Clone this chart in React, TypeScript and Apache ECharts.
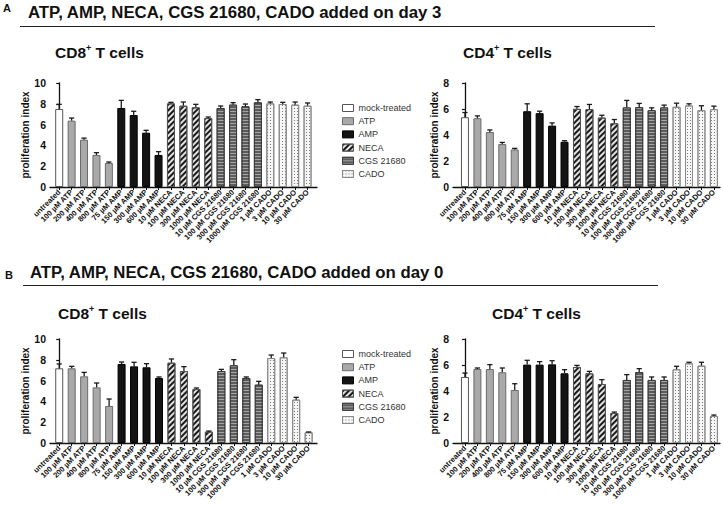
import React, { useEffect, useRef } from 'react';
import * as echarts from 'echarts';

const categories = [
  'untreated',
  '100 µM ATP', '200 µM ATP', '400 µM ATP', '800 µM ATP',
  '75 µM AMP', '150 µM AMP', '300 µM AMP', '600 µM AMP',
  '10 µM NECA', '100 µM NECA', '300 µM NECA', '1000 µM NECA',
  '10 µM CGS 21680', '100 µM CGS 21680', '300 µM CGS 21680', '1000 µM CGS 21680',
  '1 µM CADO', '3 µM CADO', '10 µM CADO', '30 µM CADO',
];
const groupNames = ['mock-treated', 'ATP', 'AMP', 'NECA', 'CGS 21680', 'CADO'];
const groupOfCategory = [0, 1, 1, 1, 1, 2, 2, 2, 2, 3, 3, 3, 3, 4, 4, 4, 4, 5, 5, 5, 5];

// Panel A (added on day 3)
const aCd8Mean = [7.5, 6.38, 4.55, 3.08, 2.31, 7.6, 6.92, 5.22, 3.08, 8.04, 7.82, 7.66, 6.63, 7.6, 7.92, 7.76, 8.14, 8.04, 7.98, 7.92, 7.82];
const aCd8Err = [0.45, 0.25, 0.15, 0.22, 0.09, 0.73, 0.36, 0.23, 0.32, 0.1, 0.35, 0.29, 0.1, 0.19, 0.19, 0.22, 0.26, 0.13, 0.16, 0.25, 0.26];
const aCd4Mean = [5.37, 5.29, 4.23, 3.3, 2.89, 5.83, 5.68, 4.72, 3.48, 6.01, 5.99, 5.34, 4.9, 6.12, 6.14, 5.91, 6.12, 6.17, 6.27, 5.91, 5.99];
const aCd4Err = [0.36, 0.18, 0.16, 0.13, 0.08, 0.57, 0.15, 0.21, 0.08, 0.18, 0.36, 0.18, 0.29, 0.54, 0.29, 0.18, 0.18, 0.28, 0.13, 0.34, 0.23];

// Panel B (added on day 0)
const bCd8Mean = [7.18, 7.18, 6.41, 5.35, 3.56, 7.6, 7.37, 7.28, 6.25, 7.72, 6.92, 5.19, 1.09, 6.92, 7.47, 6.25, 5.61, 8.17, 8.24, 4.17, 1.03];
const bCd8Err = [0.42, 0.19, 0.38, 0.42, 0.67, 0.19, 0.39, 0.35, 0.1, 0.36, 0.42, 0.1, 0.06, 0.16, 0.54, 0.1, 0.32, 0.29, 0.41, 0.22, 0.03];
const bCd4Mean = [5.08, 5.69, 5.69, 5.44, 4.08, 6.03, 6.03, 6.05, 5.36, 5.85, 5.36, 4.54, 2.31, 4.85, 5.46, 4.85, 4.85, 5.67, 6.13, 5.95, 2.08];
const bCd4Err = [0.3, 0.08, 0.34, 0.33, 0.48, 0.33, 0.23, 0.28, 0.28, 0.12, 0.15, 0.33, 0.07, 0.41, 0.26, 0.23, 0.23, 0.23, 0.08, 0.26, 0.07];

const yAxisName = 'proliferation index';
const titleA = 'ATP, AMP, NECA, CGS 21680, CADO added on day 3';
const titleB = 'ATP, AMP, NECA, CGS 21680, CADO added on day 0';

const FONT = '"Liberation Sans", Arial, Helvetica, sans-serif';
const INK = '#111111';

const groupStyles: any[] = [
  { color: '#ffffff', borderColor: '#555555' },
  { color: '#a9a9a9', borderColor: '#6a6a6a' },
  { color: '#141414', borderColor: '#000000' },
  {
    color: '#e2e2e2', borderColor: '#555555',
    decal: { symbol: 'rect', color: '#1a1a1a', dashArrayX: [1, 0], dashArrayY: [2, 2], rotation: -Math.PI / 4, symbolSize: 1 },
  },
  {
    color: '#5c5c5c', borderColor: '#3a3a3a',
    decal: { symbol: 'rect', color: '#a4a4a4', dashArrayX: [1, 0], dashArrayY: [1, 2], rotation: 0, symbolSize: 1 },
  },
  {
    color: '#f6f6f6', borderColor: '#8a8a8a',
    decal: { symbol: 'rect', color: '#7a7a7a', dashArrayX: [1, 2], dashArrayY: [1, 2], rotation: 0, symbolSize: 1 },
  },
];

const panels = [
  { mean: aCd8Mean, err: aCd8Err, left: 50, top: 83, width: 267, height: 104, yMax: 10, xMin: -0.74, xMax: 20.76, nameGap: 7 },
  { mean: aCd4Mean, err: aCd4Err, left: 453, top: 83, width: 267, height: 104, yMax: 8, xMin: -0.96, xMax: 20.49, nameGap: 6 },
  { mean: bCd8Mean, err: bCd8Err, left: 50, top: 339, width: 267, height: 104, yMax: 10, xMin: -0.74, xMax: 20.67, nameGap: 7 },
  { mean: bCd4Mean, err: bCd4Err, left: 453, top: 339, width: 267, height: 104, yMax: 8, xMin: -0.96, xMax: 20.49, nameGap: 6 },
];

const catIdx = categories.map((_, i) => i);

function cellText(x: number, y: number, num: string) {
  return {
    type: 'text',
    x,
    y,
    style: {
      text: `{m|CD${num}}{s|+}{m| T cells}`,
      verticalAlign: 'middle',
      rich: {
        m: { fontFamily: FONT, fontWeight: 'bold', fontSize: 15.5, lineHeight: 18, fill: INK },
        s: { fontFamily: FONT, fontWeight: 'bold', fontSize: 9, lineHeight: 12, verticalAlign: 'top', fill: INK },
      },
    },
  };
}

function buildOption() {
  const lineStyle = { color: INK, width: 1.3 };
  const grid = panels.map((p) => ({
    left: p.left, top: p.top, width: p.width, height: p.height,
    containLabel: false, outerBoundsMode: 'none',
  }));
  const xAxis = panels.map((p, k) => ({
    type: 'value', gridIndex: k, min: p.xMin, max: p.xMax,
    splitLine: { show: false },
    axisLine: { show: true, onZero: true, lineStyle },
    axisTick: { show: true, customValues: catIdx, length: 3, lineStyle: { color: INK, width: 1 } },
    axisLabel: {
      customValues: catIdx, rotate: 45, margin: 4, interval: 0,
      formatter: (v: number) => categories[Math.round(v)] ?? '',
      fontSize: 7.6, fontWeight: 'bold', fontFamily: FONT, color: INK,
    },
  }));
  const yAxis = panels.map((p, k) => ({
    type: 'value', gridIndex: k, min: 0, max: p.yMax, interval: 2,
    name: yAxisName, nameLocation: 'middle', nameGap: p.nameGap,
    nameTextStyle: { fontSize: 10, fontWeight: 'bold', fontFamily: FONT, color: INK },
    splitLine: { show: false },
    axisLine: { show: true, lineStyle },
    axisTick: { show: true, length: 3, lineStyle: { color: INK, width: 1.2 } },
    axisLabel: { fontSize: 10.5, fontWeight: 'bold', fontFamily: FONT, color: INK, margin: 4 },
  }));
  const series: any[] = [];
  panels.forEach((p, k) => {
    groupNames.forEach((g, gi) => {
      series.push({
        type: 'bar', name: g, xAxisIndex: k, yAxisIndex: k,
        barWidth: 8, barGap: '-100%',
        itemStyle: { ...groupStyles[gi], borderWidth: 1 },
        data: categories
          .map((_, i) => (groupOfCategory[i] === gi ? [i, p.mean[i]] : null))
          .filter((d) => d !== null),
        z: 2,
      });
    });
    series.push({
      type: 'custom', xAxisIndex: k, yAxisIndex: k, silent: true, z: 3,
      data: p.mean.map((m, i) => [i, m, p.err[i]]),
      encode: { x: 0, y: 1 },
      renderItem: (_params: any, api: any) => {
        const x = api.value(0);
        const m = api.value(1);
        const e = api.value(2);
        const base = api.coord([x, m]);
        const top = api.coord([x, m + e]);
        const style = { stroke: '#1a1a1a', lineWidth: 1.3 };
        return {
          type: 'group',
          children: [
            { type: 'line', shape: { x1: base[0], y1: base[1], x2: top[0], y2: top[1] }, style },
            { type: 'line', shape: { x1: top[0] - 2.6, y1: top[1], x2: top[0] + 2.6, y2: top[1] }, style },
          ],
        };
      },
    });
  });
  const legend = [103, 349].map((top) => ({
    left: 342, top, padding: 0, orient: 'vertical', data: groupNames,
    itemWidth: 11, itemHeight: 7, itemGap: 3.2, icon: 'rect',
    selectedMode: false,
    itemStyle: { borderWidth: 1 },
    textStyle: { fontSize: 9, lineHeight: 10, fontFamily: FONT, color: '#333333' },
  }));
  const graphic = [
    { type: 'text', x: 3, y: 8, style: { text: 'A', fontFamily: FONT, fontWeight: 'bold', fontSize: 11, fill: INK, verticalAlign: 'middle' } },
    { type: 'text', x: 28, y: 12, style: { text: titleA, fontFamily: FONT, fontWeight: 'bold', fontSize: 16.8, fill: INK, verticalAlign: 'middle' } },
    { type: 'line', shape: { x1: 20, y1: 26.5, x2: 655, y2: 26.5 }, style: { stroke: '#222', lineWidth: 1.2 } },
    cellText(55, 52, '8'),
    cellText(463, 52, '4'),
    { type: 'text', x: 5, y: 275, style: { text: 'B', fontFamily: FONT, fontWeight: 'bold', fontSize: 11, fill: INK, verticalAlign: 'middle' } },
    { type: 'text', x: 30, y: 272, style: { text: titleB, fontFamily: FONT, fontWeight: 'bold', fontSize: 16.8, fill: INK, verticalAlign: 'middle' } },
    { type: 'line', shape: { x1: 23, y1: 285.5, x2: 658, y2: 285.5 }, style: { stroke: '#222', lineWidth: 1.2 } },
    cellText(58, 313, '8'),
    cellText(492, 313, '4'),
  ];
  return {
    animation: false,
    backgroundColor: '#ffffff',
    textStyle: { fontFamily: FONT },
    grid, xAxis, yAxis, series, legend, graphic,
  };
}

export default function App() {
  const ref = useRef<HTMLDivElement>(null);
  useEffect(() => {
    if (!ref.current) return;
    const chart = echarts.init(ref.current, undefined, { renderer: 'svg' });
    chart.setOption(buildOption() as any);
    return () => chart.dispose();
  }, []);
  return (
    <div
      ref={ref}
      style={{ position: 'fixed', left: 0, top: 0, width: 723, height: 509, background: '#fff' }}
    />
  );
}
